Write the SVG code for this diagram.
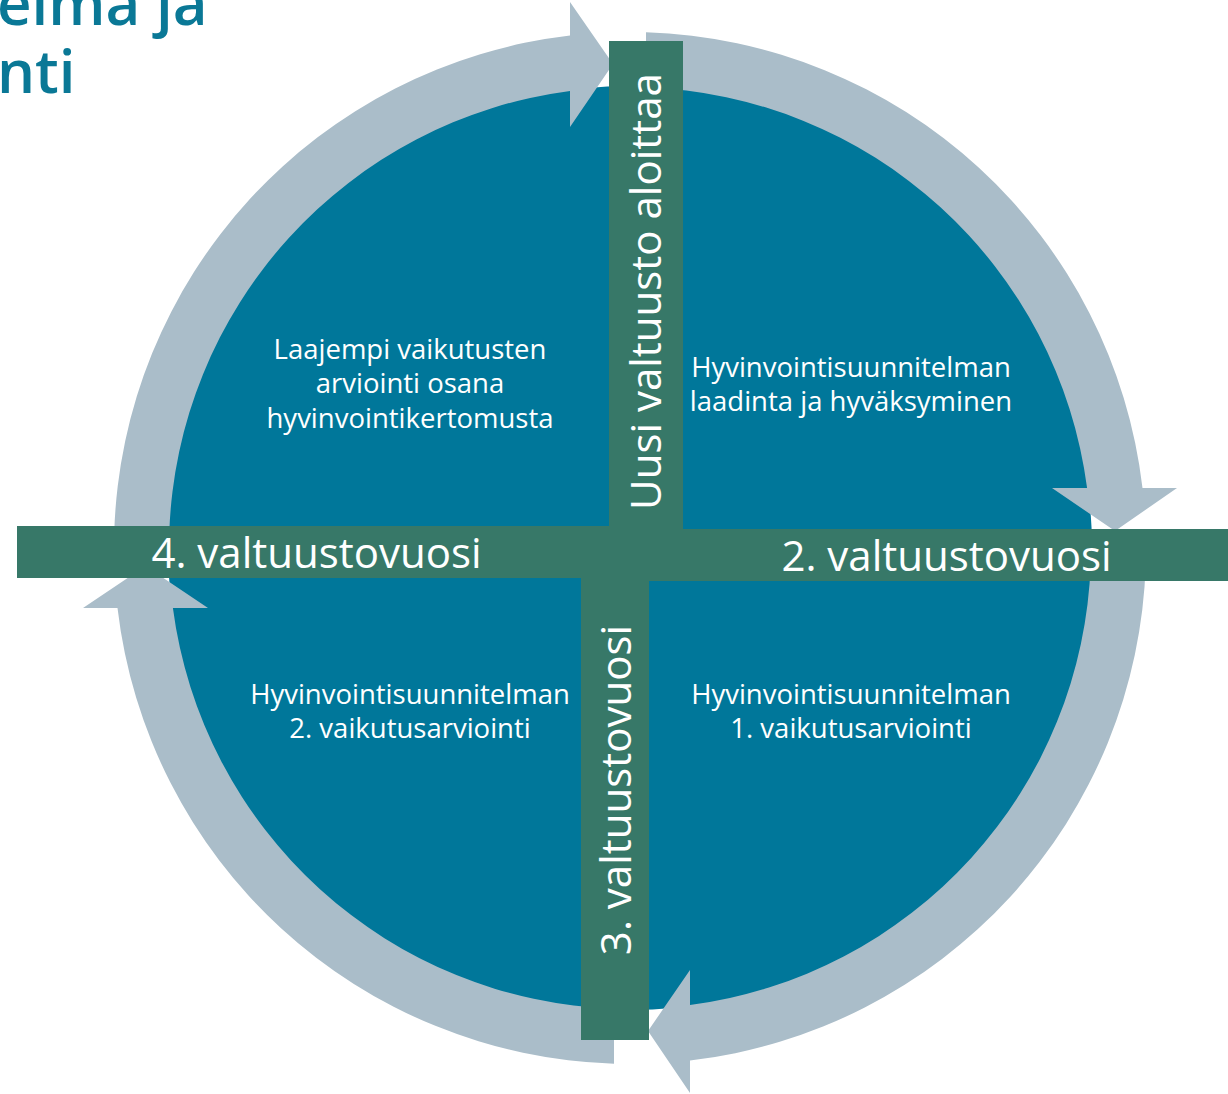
<svg xmlns="http://www.w3.org/2000/svg" width="1228" height="1094" viewBox="0 0 1228 1094">
<style>
.ring{fill:#aabdc9}
.bar{fill:#377868}
.big{font-family:"Open Sans","Noto Sans","DejaVu Sans",sans-serif;font-size:42px;fill:#ffffff;text-anchor:middle}
.body{font-family:"Open Sans","Noto Sans","DejaVu Sans",sans-serif;font-size:27.5px;fill:#ffffff;text-anchor:middle}
.title{font-family:"Open Sans","Noto Sans","DejaVu Sans",sans-serif;font-size:60px;font-weight:600;fill:#0a7896}
</style>
<rect width="1228" height="1094" fill="#ffffff"/>
<g id="title">
<text class="title" x="-3" y="25">eima ja</text>
<text class="title" x="-3" y="93">nti</text>
</g>
<g id="disc"><circle cx="630" cy="548" r="462" fill="#00779a"/></g>
<g id="connectors">
<path class="ring" d="M 169.3 532 L 114.25 532 A 516 516 0 0 1 570 35.5 L 570 2 L 613 64 L 570 127 L 570 90.9 A 461 461 0 0 0 169.3 532 Z"/>
<path class="ring" d="M 646 32.25 A 516 516 0 0 1 1142.5 488 L 1177 488 L 1115 531 L 1052 488 L 1087.1 488 A 461 461 0 0 0 646 87.3 Z"/>
<path class="ring" d="M 1145.75 564 A 516 516 0 0 1 690 1060.5 L 690 1093 L 648 1031 L 690 970 L 690 1005.1 A 461 461 0 0 0 1090.7 564 Z"/>
<path class="ring" d="M 614 1063.75 A 516 516 0 0 1 117.5 608 L 83 608 L 145.5 566 L 208 608 L 172.9 608 A 461 461 0 0 0 614 1008.7 Z"/>
</g>
<g id="bar-top"><rect class="bar" x="609" y="41" width="74" height="489"/>
<text class="big" transform="translate(661,291.5) rotate(-90)">Uusi valtuusto aloittaa</text></g>
<g id="bar-right"><rect class="bar" x="620" y="529" width="608" height="52"/>
<text class="big" x="946.5" y="571">2. valtuustovuosi</text></g>
<g id="bar-bottom"><rect class="bar" x="581" y="540" width="68" height="500"/>
<text class="big" transform="translate(631,790) rotate(-90)">3. valtuustovuosi</text></g>
<g id="bar-left"><rect class="bar" x="17" y="526" width="620" height="52"/>
<text class="big" x="316.5" y="568">4. valtuustovuosi</text></g>
<g id="q-top-left"><text class="body"><tspan x="410" y="359">Laajempi vaikutusten</tspan><tspan x="410" y="393">arviointi osana</tspan><tspan x="410" y="428">hyvinvointikertomusta</tspan></text></g>
<g id="q-top-right"><text class="body"><tspan x="851" y="377">Hyvinvointisuunnitelman</tspan><tspan x="851" y="411">laadinta ja hyväksyminen</tspan></text></g>
<g id="q-bottom-right"><text class="body"><tspan x="851" y="704">Hyvinvointisuunnitelman</tspan><tspan x="851" y="738">1. vaikutusarviointi</tspan></text></g>
<g id="q-bottom-left"><text class="body"><tspan x="410" y="704">Hyvinvointisuunnitelman</tspan><tspan x="410" y="738">2. vaikutusarviointi</tspan></text></g>
</svg>
